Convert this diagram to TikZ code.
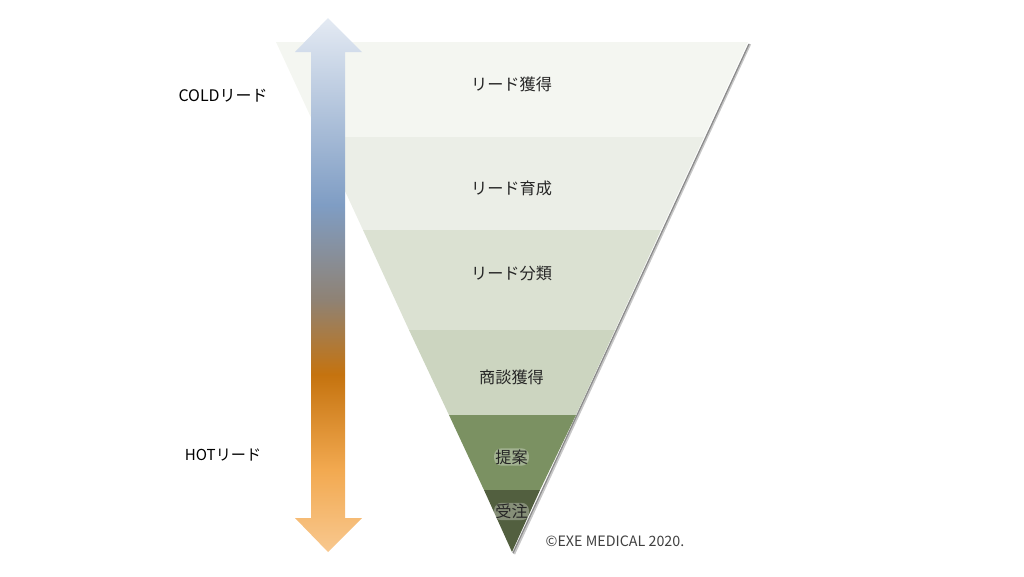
\documentclass[tikz,border=0pt]{standalone}
\usepackage{fontspec}
\setmainfont{Noto Sans CJK JP}

\definecolor{bandA}{HTML}{F4F6F1}
\definecolor{bandB}{HTML}{EBEEE7}
\definecolor{bandC}{HTML}{DBE1D2}
\definecolor{bandD}{HTML}{CCD5C0}
\definecolor{bandE}{HTML}{7B9162}
\definecolor{bandF}{HTML}{525F3F}
\definecolor{arrA}{HTML}{E4EAF3}
\definecolor{arrB}{HTML}{7F9DC4}
\definecolor{arrC}{HTML}{8F8274}
\definecolor{arrD}{HTML}{C5730F}
\definecolor{arrE}{HTML}{F2A950}
\definecolor{arrF}{HTML}{F8C88F}
\pgfdeclareverticalshading{temperature}{100bp}{color(0bp)=(arrF); color(25bp)=(arrF); color(32.7bp)=(arrE); color(41.6bp)=(arrD); color(48.6bp)=(arrC); color(57.5bp)=(arrB); color(75bp)=(arrA); color(100bp)=(arrA)}

\tikzset{
	label/.style={inner sep=1pt, font=\fontsize{13.8pt}{15pt}\selectfont, text=black!85},
	side/.style={inner sep=1pt, font=\fontsize{13.6pt}{15pt}\selectfont, text=black},
	glow/.style={label, fill=white, fill opacity=.3, text opacity=1, rounded corners=6pt}
}

\begin{document}
\begin{tikzpicture}[x=0.03cm,y=-0.03cm]
	\useasboundingbox (0,0) rectangle (1024,576);
	% shadow on the right edge
	\draw[line width=2pt,black!22] (750,44) -- (514,554);
	\draw[line width=1.1pt,black!45] (749,44) -- (513,553);

	% funnel
	\fill[bandA] (276,42) -- (748,42) -- (704,137) -- (320,137) -- cycle;
	\fill[bandB] (320,137) -- (704,137) -- (661,230) -- (363,230) -- cycle;
	\fill[bandC] (363,230) -- (661,230) -- (615,330) -- (409,330) -- cycle;
	\fill[bandD] (409,330) -- (615,330) -- (576,415) -- (449,415) -- cycle;
	\fill[bandE] (449,415) -- (576,415) -- (540,490) -- (484,490) -- cycle;
	\fill[bandF] (484,490) -- (540,490) -- (512,552) -- cycle;

	\node[label] (lead) at (511.5,84.5) {リード獲得};
	\node[label] (nurture) at (511.5,188.5) {リード育成};
	\node[label] (sort) at (511.5,273.5) {リード分類};
	\node[label] (deal) at (511.5,377.5) {商談獲得};
	\node[glow] (offer) at (511.5,457) {提案};
	\node[glow] (order) at (511.5,511.5) {受注};

	% arrow
	\shade[shading=temperature] (328,18) -- (362,52) -- (345,52) -- (345,518) -- (362,518) -- (328,552) -- (295,518) -- (311,518) -- (311,52) -- (295,52) -- cycle;

	\node[side] (cold) at (223,96) {COLDリード};
	\node[side, font=\fontsize{12.9pt}{15pt}\selectfont] (hot) at (223,455) {HOTリード};
	\node[inner sep=1pt, font=\fontsize{12.2pt}{14pt}\selectfont, text=black!75] (copy) at (615,541) {©EXE MEDICAL 2020.};
\end{tikzpicture}
\end{document}
